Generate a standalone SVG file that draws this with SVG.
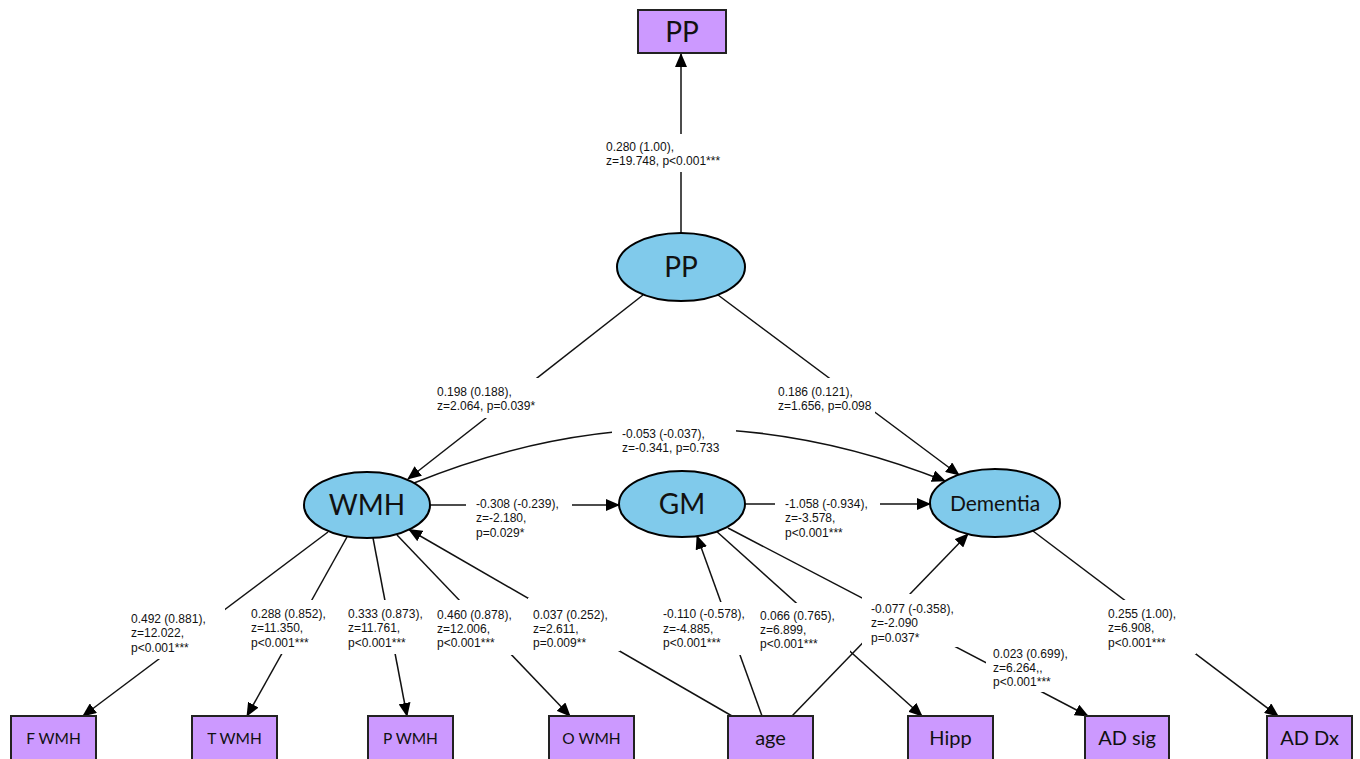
<svg xmlns="http://www.w3.org/2000/svg" width="1360" height="759" viewBox="0 0 1360 759">
<style>
.ell{fill:#80CAEB;stroke:#000;stroke-width:2}
.box{fill:#CC99FF;stroke:#222;stroke-width:2}
.nt{font-family:Lato,"Open Sans","Liberation Sans",sans-serif;fill:#111;text-anchor:middle}
.ln{fill:none;stroke:#111;stroke-width:1.5}
.lb{font-family:"Liberation Sans",Arial,sans-serif;font-size:12px;fill:#111}
.bg{fill:#fff}
</style>
<defs>
<marker id="ah" markerUnits="userSpaceOnUse" markerWidth="14" markerHeight="12" refX="13" refY="6" orient="auto">
<path d="M0,0 L14,6 L0,12 Z" fill="#000"/>
</marker>
</defs>
<rect width="1360" height="759" fill="#fff"/>
<g id="connectors">
<path class="ln" d="M681,233 L681,54" marker-end="url(#ah)"/>
<path class="ln" d="M643,295 L408,479" marker-end="url(#ah)"/>
<path class="ln" d="M718,295 L959,475" marker-end="url(#ah)"/>
<path class="ln" d="M414,483 Q679,375 945,481" marker-end="url(#ah)"/>
<path class="ln" d="M430,505 L619,505" marker-end="url(#ah)"/>
<path class="ln" d="M745,504 L930,504" marker-end="url(#ah)"/>
<path class="ln" d="M328,532 L83,716" marker-end="url(#ah)"/>
<path class="ln" d="M347,537 L247,716" marker-end="url(#ah)"/>
<path class="ln" d="M373,538 L407,716" marker-end="url(#ah)"/>
<path class="ln" d="M397,535 L570,716" marker-end="url(#ah)"/>
<path class="ln" d="M732,716 L409,529.5" marker-end="url(#ah)"/>
<path class="ln" d="M762,716 L697,536" marker-end="url(#ah)"/>
<path class="ln" d="M715,530 L922,716" marker-end="url(#ah)"/>
<path class="ln" d="M728,528 L1088,716" marker-end="url(#ah)"/>
<path class="ln" d="M792,716 L968,534" marker-end="url(#ah)"/>
<path class="ln" d="M1033,531 L1278,716" marker-end="url(#ah)"/>
<g id="label-bgs">
<rect class="bg" x="602" y="134" width="122" height="38"/>
<rect class="bg" x="432" y="378" width="109" height="40"/>
<rect class="bg" x="773" y="378" width="102" height="40"/>
<rect class="bg" x="612" y="421" width="124" height="36"/>
<rect class="bg" x="466" y="492" width="106" height="49"/>
<rect class="bg" x="775" y="492" width="105" height="49"/>
<rect class="bg" x="126" y="606" width="99" height="53"/>
<rect class="bg" x="246" y="600" width="84" height="54"/>
<rect class="bg" x="343" y="600" width="82" height="54"/>
<rect class="bg" x="432" y="600" width="82" height="55"/>
<rect class="bg" x="528" y="598" width="92" height="53"/>
<rect class="bg" x="658" y="602" width="92" height="53"/>
<rect class="bg" x="755" y="603" width="95" height="49"/>
<rect class="bg" x="862" y="594" width="96" height="53"/>
<rect class="bg" x="986" y="643" width="89" height="49"/>
<rect class="bg" x="1103" y="600" width="93" height="54"/>
</g>
<g id="labels" class="lb">
<text x="606" y="150.5">0.280 (1.00),<tspan x="606" dy="14.5">z=19.748, p&lt;0.001***</tspan></text>
<text x="437" y="395.5">0.198 (0.188),<tspan x="437" dy="14.5">z=2.064, p=0.039*</tspan></text>
<text x="778" y="395.5">0.186 (0.121),<tspan x="778" dy="14.5">z=1.656, p=0.098</tspan></text>
<text x="622" y="437.5">-0.053 (-0.037),<tspan x="622" dy="14.5">z=-0.341, p=0.733</tspan></text>
<text x="476" y="507.5">-0.308 (-0.239),<tspan x="476" dy="14.5">z=-2.180,</tspan><tspan x="476" dy="14.5">p=0.029*</tspan></text>
<text x="785" y="507.5">-1.058 (-0.934),<tspan x="785" dy="14.5">z=-3.578,</tspan><tspan x="785" dy="14.5">p&lt;0.001***</tspan></text>
<text x="131" y="622.5">0.492 (0.881),<tspan x="131" dy="14.5">z=12.022,</tspan><tspan x="131" dy="14.5">p&lt;0.001***</tspan></text>
<text x="251" y="617.5">0.288 (0.852),<tspan x="251" dy="14.5">z=11.350,</tspan><tspan x="251" dy="14.5">p&lt;0.001***</tspan></text>
<text x="348" y="617.5">0.333 (0.873),<tspan x="348" dy="14.5">z=11.761,</tspan><tspan x="348" dy="14.5">p&lt;0.001***</tspan></text>
<text x="437" y="618.5">0.460 (0.878),<tspan x="437" dy="14">z=12.006,</tspan><tspan x="437" dy="14">p&lt;0.001***</tspan></text>
<text x="533" y="618.5">0.037 (0.252),<tspan x="533" dy="14">z=2.611,</tspan><tspan x="533" dy="14">p=0.009**</tspan></text>
<text x="663" y="618">-0.110 (-0.578),<tspan x="663" dy="14.5">z=-4.885,</tspan><tspan x="663" dy="14.5">p&lt;0.001***</tspan></text>
<text x="760" y="619.5">0.066 (0.765),<tspan x="760" dy="14">z=6.899,</tspan><tspan x="760" dy="14">p&lt;0.001***</tspan></text>
<text x="871" y="612.5">-0.077 (-0.358),<tspan x="871" dy="14.5">z=-2.090</tspan><tspan x="871" dy="14.5">p=0.037*</tspan></text>
<text x="993" y="657.5">0.023 (0.699),<tspan x="993" dy="14.5">z=6.264,,</tspan><tspan x="993" dy="14">p&lt;0.001***</tspan></text>
<text x="1108" y="617.5">0.255 (1.00),<tspan x="1108" dy="14.5">z=6.908,</tspan><tspan x="1108" dy="14.5">p&lt;0.001***</tspan></text>
</g>
</g>
<g id="node-pp-box"><rect class="box" x="638" y="10" width="88" height="43"/><text class="nt" x="682" y="41.5" font-size="28">PP</text></g>
<g id="node-pp"><ellipse class="ell" cx="681" cy="267" rx="64" ry="34"/><text class="nt" x="681" y="277" font-size="28">PP</text></g>
<g id="node-wmh"><ellipse class="ell" cx="367" cy="505" rx="63" ry="33"/><text class="nt" x="367" y="515" font-size="28">WMH</text></g>
<g id="node-gm"><ellipse class="ell" cx="682" cy="504" rx="63" ry="33"/><text class="nt" x="682" y="514" font-size="28">GM</text></g>
<g id="node-dementia"><ellipse class="ell" cx="995" cy="503" rx="65" ry="34"/><text class="nt" x="995" y="511" font-size="21">Dementia</text></g>
<g id="node-fwmh"><rect class="box" x="11" y="716" width="85" height="46"/><text class="nt" x="53.5" y="743.5" font-size="15.5">F WMH</text></g>
<g id="node-twmh"><rect class="box" x="192" y="716" width="85" height="46"/><text class="nt" x="234.5" y="743.5" font-size="15.5">T WMH</text></g>
<g id="node-pwmh"><rect class="box" x="368" y="716" width="85" height="46"/><text class="nt" x="410.5" y="743.5" font-size="15.5">P WMH</text></g>
<g id="node-owmh"><rect class="box" x="549" y="716" width="85" height="46"/><text class="nt" x="591.5" y="743.5" font-size="15.5">O WMH</text></g>
<g id="node-age"><rect class="box" x="728" y="716" width="85" height="46"/><text class="nt" x="770.5" y="745" font-size="20">age</text></g>
<g id="node-hipp"><rect class="box" x="908" y="716" width="85" height="46"/><text class="nt" x="950.5" y="745" font-size="20">Hipp</text></g>
<g id="node-adsig"><rect class="box" x="1085" y="716" width="84" height="46"/><text class="nt" x="1127" y="745" font-size="20">AD sig</text></g>
<g id="node-addx"><rect class="box" x="1267" y="716" width="85" height="46"/><text class="nt" x="1309.5" y="745" font-size="20">AD Dx</text></g>
</svg>
